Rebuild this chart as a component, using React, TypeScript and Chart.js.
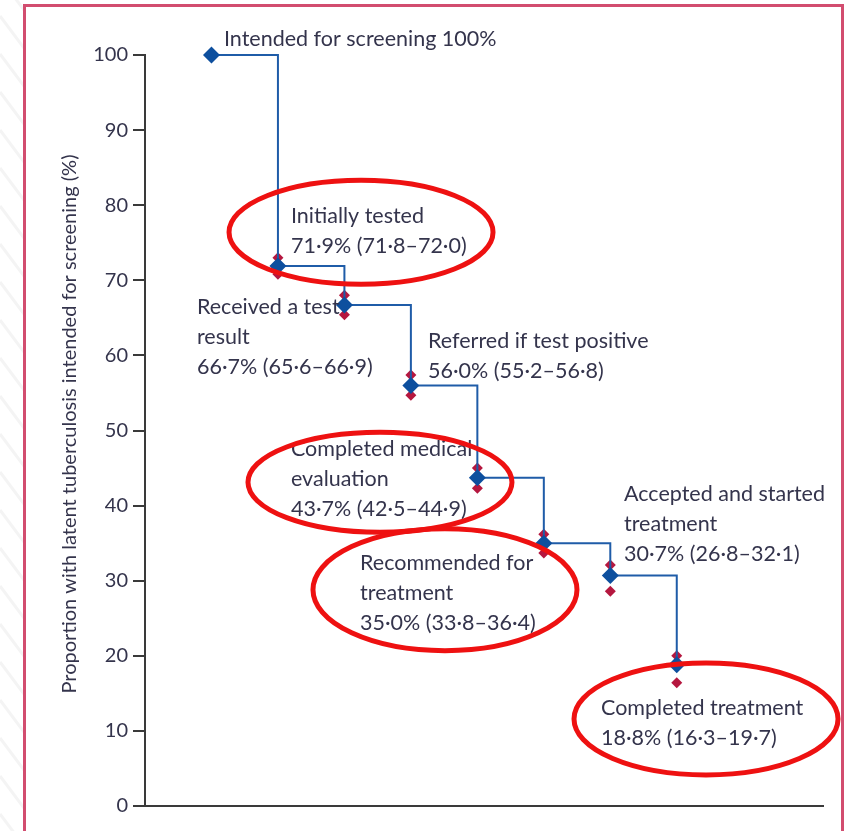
import { useEffect, useRef } from 'react';
import { Chart, registerables } from 'chart.js';

Chart.register(...registerables);

// ---- data ----
const stageIndex = [0, 1, 2, 3, 4, 5, 6, 7];
const stageValues = [100, 71.9, 66.7, 56.0, 43.7, 35.0, 30.7, 18.8];
const ciUpperMarks = [null, 73.0, 68.0, 57.4, 45.0, 36.2, 32.1, 20.0];
const ciLowerMarks = [null, 70.8, 65.4, 54.7, 42.3, 33.7, 28.6, 16.4];
const yTicks = [0, 10, 20, 30, 40, 50, 60, 70, 80, 90, 100];
const yTitle = 'Proportion with latent tuberculosis intended for screening (%)';

const stageLabels = [
  ['Intended for screening 100%'],
  ['Initially tested', '71·9% (71·8–72·0)'],
  ['Received a test', 'result', '66·7% (65·6–66·9)'],
  ['Referred if test positive', '56·0% (55·2–56·8)'],
  ['Completed medical', 'evaluation', '43·7% (42·5–44·9)'],
  ['Recommended for', 'treatment', '35·0% (33·8–36·4)'],
  ['Accepted and started', 'treatment', '30·7% (26·8–32·1)'],
  ['Completed treatment', '18·8% (16·3–19·7)'],
];
// label anchors in data units (left edge x, first line centre y)
const labelX = [0.188, 1.196, -0.218, 3.258, 1.196, 2.235, 6.206, 5.86];
const labelY = [102.13, 78.56, 66.44, 61.92, 47.54, 32.36, 41.54, 13.05];

// highlighted stages (red ellipses), centres in data units
const highlightX = [2.25, 2.535, 3.513, 7.44];
const highlightY = [76.4, 43.1, 28.8, 11.6];
const highlightRx = [132, 132, 132, 132];
const highlightRy = [52, 50, 61, 56];

const FONT = 'Lato, "Open Sans", sans-serif';
const TEXT = '#34344c';

const decorPlugin = {
  id: 'decor',
  beforeDraw(chart: any) {
    const ctx = chart.ctx;
    ctx.save();
    ctx.fillStyle = '#ffffff';
    ctx.fillRect(0, 0, chart.width, chart.height);
    ctx.beginPath();
    ctx.rect(0, 0, 23, chart.height);
    ctx.clip();
    ctx.strokeStyle = '#f4f4f4';
    ctx.lineWidth = 3;
    for (let y = -60; y < chart.height + 60; y += 38) {
      ctx.beginPath();
      ctx.moveTo(0, y);
      ctx.lineTo(24, y + 32);
      ctx.stroke();
    }
    ctx.restore();
    ctx.save();
    ctx.strokeStyle = '#d24d6f';
    ctx.lineWidth = 3;
    ctx.strokeRect(24.5, 5.5, 818, chart.height + 20);
    ctx.restore();
  },
  afterDraw(chart: any) {
    const ctx = chart.ctx;
    const xs = chart.scales.x;
    const ys = chart.scales.y;
    ctx.save();
    // y-axis title
    ctx.fillStyle = TEXT;
    ctx.font = `20px ${FONT}`;
    ctx.textAlign = 'center';
    ctx.textBaseline = 'middle';
    ctx.translate(70, 424);
    ctx.rotate(-Math.PI / 2);
    ctx.fillText(yTitle, 0, 0);
    ctx.restore();

    // stage labels
    ctx.save();
    ctx.fillStyle = TEXT;
    ctx.font = `21.5px ${FONT}`;
    ctx.textAlign = 'left';
    ctx.textBaseline = 'middle';
    stageLabels.forEach((lines, i) => {
      const x = xs.getPixelForValue(labelX[i]);
      const y0 = ys.getPixelForValue(labelY[i]);
      lines.forEach((t, j) => ctx.fillText(t, x, y0 + j * 30));
    });
    ctx.restore();

    // red ellipses
    ctx.save();
    ctx.strokeStyle = '#ee1111';
    ctx.lineWidth = 5;
    highlightX.forEach((hx, i) => {
      ctx.beginPath();
      ctx.ellipse(xs.getPixelForValue(hx), ys.getPixelForValue(highlightY[i]), highlightRx[i], highlightRy[i], 0, 0, Math.PI * 2);
      ctx.stroke();
    });
    ctx.restore();
  },
};

export default function App() {
  const ref = useRef<HTMLCanvasElement>(null);
  useEffect(() => {
    document.body.style.margin = '0';
    document.body.style.overflow = 'hidden';
    const canvas = ref.current!;
    const toPts = (arr: (number | null)[]) =>
      stageIndex.filter((i) => arr[i] !== null).map((i) => ({ x: i, y: arr[i] as number }));
    const chart = new Chart(canvas, {
      type: 'line',
      data: {
        datasets: [
          {
            data: stageIndex.map((x, i) => ({ x, y: stageValues[i] })),
            stepped: 'before',
            borderColor: '#1f5ca8',
            borderWidth: 2,
            pointStyle: 'rectRot',
            pointRadius: 8.5,
            pointBackgroundColor: '#0d4f9e',
            pointBorderColor: '#0d4f9e',
            pointBorderWidth: 0,
            fill: false,
            clip: false,
          },
          {
            data: toPts(ciUpperMarks),
            showLine: false,
            pointStyle: 'rectRot',
            pointRadius: 5.5,
            pointBackgroundColor: '#b5173f',
            pointBorderWidth: 0,
            clip: false,
          },
          {
            data: toPts(ciLowerMarks),
            showLine: false,
            pointStyle: 'rectRot',
            pointRadius: 5.5,
            pointBackgroundColor: '#b5173f',
            pointBorderWidth: 0,
            clip: false,
          },
        ],
      } as any,
      options: {
        animation: false,
        responsive: false,
        devicePixelRatio: 1,
        layout: { padding: { top: 55, bottom: 25, left: 0, right: 25 } },
        plugins: { legend: { display: false }, tooltip: { enabled: false } },
        scales: {
          x: {
            type: 'linear',
            min: -1,
            max: 9.2,
            ticks: { display: false },
            grid: { display: false },
            border: { display: true, color: '#3a3a3a', width: 2 },
            afterFit(s: any) { s.height = 0; },
          },
          y: {
            type: 'linear',
            min: 0,
            max: 100,
            afterBuildTicks(s: any) { s.ticks = yTicks.map((v) => ({ value: v })); },
            ticks: { color: TEXT, font: { family: FONT, size: 20 }, padding: 5 },
            grid: { drawOnChartArea: false, drawTicks: true, tickLength: 12, color: '#3a3a3a', lineWidth: 2 },
            border: { color: '#3a3a3a', width: 2 },
            afterFit(s: any) { s.width = 145; },
          },
        },
      } as any,
      plugins: [decorPlugin],
    });
    return () => chart.destroy();
  }, []);
  return <canvas ref={ref} width={848} height={831} style={{ display: 'block' }} />;
}
